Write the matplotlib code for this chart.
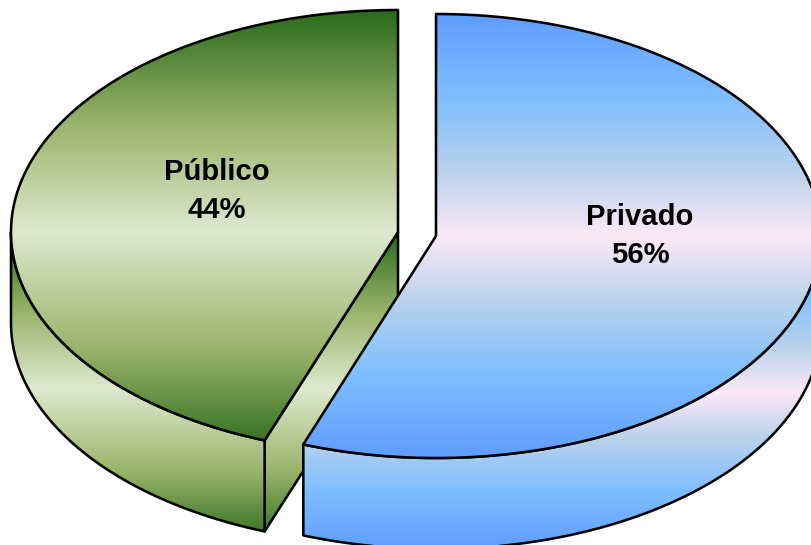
import numpy as np
import matplotlib
matplotlib.use("Agg")
import matplotlib.pyplot as plt
from matplotlib.colors import LinearSegmentedColormap
from matplotlib.patches import PathPatch
from matplotlib.path import Path

labels = ["Privado", "Público"]
values = [55.6, 44.4]

plt.rcParams['font.family'] = ['Liberation Sans', 'DejaVu Sans']
fig = plt.figure(figsize=(8.12, 5.45), dpi=100)
ax = fig.add_axes([0, 0, 1, 1])

green = LinearSegmentedColormap.from_list("g", list(zip(
    [0, 0.26, 0.5, 0.76, 1],
    ["#2a6a1a", "#9bb56c", "#dee9cf", "#9bb56c", "#2a6a1a"])), N=512)
blue = LinearSegmentedColormap.from_list("b", list(zip(
    [0, 0.19, 0.36, 0.5, 0.64, 0.81, 1],
    ["#5f9dff", "#7fbfff", "#bcd3ec", "#fde9f8", "#bcd3ec", "#7fbfff", "#5f9dff"])), N=512)
LW = 1.85
RY, DEPTH = 222, 91


def arc(cx, cy, rx, t0, t1, dy=0):
    t = np.radians(np.linspace(t0, t1, 300))
    return np.column_stack([cx + rx * np.sin(t), cy - RY * np.cos(t) + dy])


def shape(pts, cmap, y0, y1, z):
    path = Path(np.vstack([pts, pts[:1]]), closed=True)
    im = ax.imshow(np.linspace(0, 1, 512)[:, None], cmap=cmap, aspect='auto',
                   extent=(-20, 840, y1, y0), zorder=z, interpolation='bilinear')
    clip = PathPatch(path, transform=ax.transData, fc='none', ec='none')
    ax.add_patch(clip)
    im.set_clip_path(clip)
    ax.add_patch(PathPatch(path, fc='none', ec='black', lw=LW, zorder=z + 0.5, joinstyle='round'))


split = 360 * values[0] / sum(values)

# Público: exploded wedge, from the cut (split angle) round to the top (360)
gx, gy, grx = 398, 232, 387
g_edge = arc(gx, gy, grx, split, split)[0]
shape(np.array([[gx, gy], g_edge, g_edge + [0, DEPTH], [gx, gy + DEPTH]]), green, gy, gy + RY + DEPTH, 1)
shape(np.vstack([arc(gx, gy, grx, split, 270), arc(gx, gy, grx, 270, split, DEPTH)]), green, gy, gy + RY + DEPTH, 2)
shape(np.vstack([[[gx, gy]], arc(gx, gy, grx, split, 360)]), green, gy - RY, gy + RY, 3)

# Privado: exploded wedge, from the top (0) round to the cut (split angle)
bx, by, brx = 436, 236, 385
shape(np.vstack([arc(bx, by, brx, 90, split), arc(bx, by, brx, split, 90, DEPTH)]), blue, by, by + RY + DEPTH, 4)
shape(np.vstack([[[bx, by]], arc(bx, by, brx, 0, split)]), blue, by - RY, by + RY, 5)

pos = [(640, 236), (217, 191)]
for lab, v, (x, y) in zip(labels, values, pos):
    ax.text(x, y, f"{lab}\n{round(v)}%", ha='center', va='center', fontsize=21.1,
            fontweight='bold', color='black', linespacing=1.42, zorder=10)

ax.set_xlim(0, 812)
ax.set_ylim(545, 0)
ax.axis('off')
fig.savefig("out.png", dpi=100, facecolor='white')
